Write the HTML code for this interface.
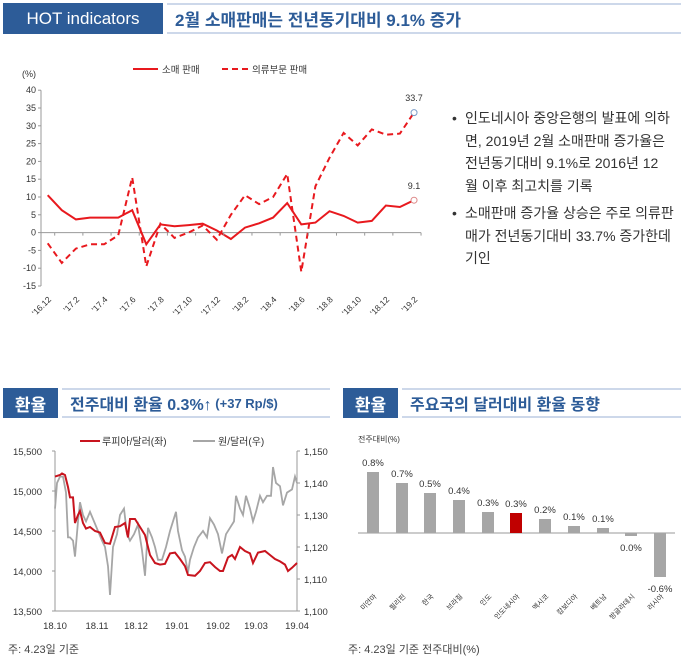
<!DOCTYPE html>
<html><head><meta charset="utf-8"><style>
body{margin:0;width:681px;height:664px;background:#fff;overflow:hidden;font-family:"Liberation Sans","Noto Sans CJK KR",sans-serif;position:relative}
.box{position:absolute;background:#2d5c98;color:#fff;font-weight:bold;display:flex;align-items:center;justify-content:center}
.tt{position:absolute;border-top:2px solid #cdd8ea;border-bottom:2px solid #cdd8ea;color:#2d5c98;font-weight:bold;display:flex;align-items:center;box-sizing:border-box;padding-left:8px}
.txt{position:absolute;left:452px;top:107px;width:229px;font-size:14px;line-height:22.7px;color:#333;white-space:nowrap}
.txt div{position:relative;padding-left:13px}
.txt div:before{content:"•";position:absolute;left:0}
svg{position:absolute;left:0;top:0}
</style></head><body>
<div class="box" style="left:3px;top:3px;width:160px;height:31px;font-size:17px;font-weight:normal">HOT indicators</div>
<div class="tt" style="left:167px;top:3px;width:514px;height:31px;font-size:17px">2월 소매판매는 전년동기대비 9.1% 증가</div>
<div class="box" style="left:3px;top:388px;width:55px;height:30px;font-size:17px">환율</div>
<div class="tt" style="left:62px;top:388px;width:268px;height:30px;font-size:16px">전주대비 환율 0.3%↑<span style="font-size:13px">&nbsp;(+37 Rp/$)</span></div>
<div class="box" style="left:343px;top:388px;width:55px;height:30px;font-size:17px">환율</div>
<div class="tt" style="left:402px;top:388px;width:279px;height:30px;font-size:16px">주요국의 달러대비 환율 동향</div>
<div class="txt"><div style="margin-bottom:4px">인도네시아 중앙은행의 발표에 의하<br>면, 2019년 2월 소매판매 증가율은<br>전년동기대비 9.1%로 2016년 12<br>월 이후 최고치를 기록</div><div>소매판매 증가율 상승은 주로 의류판<br>매가 전년동기대비 33.7% 증가한데<br>기인</div></div>
<svg id="s" width="681" height="664" font-family="Liberation Sans, Noto Sans CJK KR, sans-serif"></svg>
<script>
let o='';
const y0=232.6,k=3.56,x0=47.7,dx=14.09;
const Y=v=>y0-v*k;
for(let v=-15;v<=40;v+=5){let y=Y(v);o+=`<text x="36" y="${y+3}" font-size="9" text-anchor="end" fill="#333">${v}</text><line x1="38" x2="41" y1="${y}" y2="${y}" stroke="#999"/>`}
o+=`<text x="22" y="77" font-size="9" fill="#333">(%)</text>`;
o+=`<line x1="41" y1="${Y(40)}" x2="41" y2="${Y(-15)}" stroke="#999"/><line x1="41" y1="${y0}" x2="421" y2="${y0}" stroke="#999"/>`;
const r=[10.5,6.3,3.7,4.2,4.2,4.2,6.3,-3.3,2.3,1.8,2.1,2.5,0.6,-1.8,1.4,2.6,4.2,8.3,2.3,2.8,6.0,4.7,2.8,3.3,7.6,7.2,9.1];
const d=[-3,-8.5,-4.5,-3.3,-3.3,-0.8,15.5,-9.5,2.5,-1.5,0,2,-2,5,10.5,8,10,16.5,-11,13,21,28,24.5,29,27.5,27.8,33.7];
const P=a=>a.map((v,i)=>(x0+i*dx).toFixed(1)+','+Y(v).toFixed(1)).join(' ');
o+=`<polyline points="${P(d)}" fill="none" stroke="#e8191e" stroke-width="2" stroke-dasharray="6,4"/>`;
o+=`<polyline points="${P(r)}" fill="none" stroke="#e8191e" stroke-width="2"/>`;
let xl=x0+26*dx;
o+=`<circle cx="${xl}" cy="${Y(33.7)}" r="3" fill="#fff" stroke="#7a9cc8"/><circle cx="${xl}" cy="${Y(9.1)}" r="3" fill="#fff" stroke="#d88"/>`;
o+=`<text x="${xl}" y="101" font-size="9" text-anchor="middle" fill="#333">33.7</text><text x="${xl}" y="189" font-size="9" text-anchor="middle" fill="#333">9.1</text>`;
const lab=["'16.12","'17.2","'17.4","'17.6","'17.8","'17.10","'17.12","'18.2","'18.4","'18.6","'18.8","'18.10","'18.12","'19.2"];
lab.forEach((t,i)=>{let x=x0+i*2*dx+4;o+=`<text x="${x}" y="${300}" font-size="8.5" text-anchor="end" fill="#333" transform="rotate(-45 ${x} 300)">${t}</text>`;o+=`<line x1="${x0+i*2*dx+7}" x2="${x0+i*2*dx+7}" y1="${y0}" y2="${y0+3}" stroke="#999"/>`});
o+=`<line x1="133" x2="158" y1="69" y2="69" stroke="#e8191e" stroke-width="2"/><text x="162" y="73" font-size="9.5" fill="#333">소매 판매</text>`;
o+=`<line x1="222" x2="250" y1="69" y2="69" stroke="#e8191e" stroke-width="2" stroke-dasharray="6,4"/><text x="252" y="73" font-size="9.5" fill="#333">의류부문 판매</text>`;
const L=55,R=297,T=451,B=611;
o+=`<line x1="${L}" y1="${T}" x2="${L}" y2="${B}" stroke="#999"/><line x1="${R}" y1="${T}" x2="${R}" y2="${B}" stroke="#999"/><line x1="${L}" y1="${B}" x2="${R}" y2="${B}" stroke="#999"/>`;
["15,500","15,000","14,500","14,000","13,500"].forEach((t,i)=>{let y=T+i*40;o+=`<text x="42" y="${y+4}" font-size="9.5" text-anchor="end" fill="#333">${t}</text><line x1="${L-3}" x2="${L}" y1="${y}" y2="${y}" stroke="#999"/>`});
["1,150","1,140","1,130","1,120","1,110","1,100"].forEach((t,i)=>{let y=T+i*32;o+=`<text x="304" y="${y+4}" font-size="9.5" fill="#333">${t}</text><line x1="${R}" x2="${R+3}" y1="${y}" y2="${y}" stroke="#999"/>`});
["18.10","18.11","18.12","19.01","19.02","19.03","19.04"].forEach((t,i)=>{let x=[55,97,136,177,218,256,297][i];o+=`<text x="${x}" y="629" font-size="9.5" text-anchor="middle" fill="#333">${t}</text>`});
const red=[[55,15180],[60,15200],[62,15220],[65,15200],[68,15050],[70,14920],[73,14920],[75,14600],[78,14700],[80,14750],[83,14600],[86,14530],[90,14550],[95,14500],[100,14480],[105,14350],[110,14340],[115,14550],[120,14560],[125,14600],[128,14420],[130,14650],[135,14650],[140,14550],[145,14450],[150,14200],[155,14100],[160,14080],[165,14090],[170,14220],[175,14230],[180,14150],[185,14060],[188,13950],[195,13940],[200,14000],[205,14100],[210,14110],[215,14050],[220,14000],[223,14000],[228,14170],[232,14200],[235,14150],[240,14300],[245,14250],[250,14220],[253,14100],[258,14230],[265,14250],[270,14200],[275,14150],[280,14120],[285,14080],[288,14000],[292,14040],[297,14100]];
const gr=[[55,1132],[57,1140],[60,1142],[63,1142],[66,1137],[68,1123],[70,1123],[73,1122],[75,1117],[78,1128],[80,1134],[83,1130],[86,1128],[90,1131],[94,1128],[98,1125],[102,1122],[105,1120],[108,1114],[110,1105],[113,1120],[117,1124],[120,1130],[124,1132],[127,1124],[130,1122],[134,1124],[138,1127],[142,1119],[145,1111],[148,1126],[152,1123],[155,1120],[158,1116],[162,1116],[166,1120],[170,1125],[174,1129],[176,1131],[178,1125],[182,1119],[185,1117],[188,1112],[190,1116],[194,1120],[198,1123],[203,1125],[207,1123],[210,1129],[214,1127],[218,1124],[222,1118],[226,1124],[230,1126],[234,1128],[236,1136],[240,1132],[243,1130],[246,1136],[250,1132],[253,1128],[256,1131],[260,1136],[263,1134],[267,1136],[271,1136],[273,1145],[276,1140],[280,1139],[283,1133],[287,1137],[292,1138],[295,1142],[297,1140]];
o+=`<polyline points="${gr.map(p=>p[0]+','+(T+(1150-p[1])*3.2).toFixed(1)).join(' ')}" fill="none" stroke="#a6a6a6" stroke-width="1.8"/>`;
o+=`<polyline points="${red.map(p=>p[0]+','+(T+(15500-p[1])*0.08).toFixed(1)).join(' ')}" fill="none" stroke="#c8141e" stroke-width="2"/>`;
o+=`<line x1="80" x2="100" y1="441" y2="441" stroke="#c8141e" stroke-width="2"/><text x="102" y="445" font-size="10" fill="#333">루피아/달러(좌)</text>`;
o+=`<line x1="193" x2="215" y1="441" y2="441" stroke="#a6a6a6" stroke-width="2"/><text x="218" y="445" font-size="10" fill="#333">원/달러(우)</text>`;
o+=`<text x="8" y="653" font-size="11" fill="#444">주: 4.23일 기준</text>`;
const base=533;
o+=`<line x1="358" x2="675" y1="${base}" y2="${base}" stroke="#999"/>`;
const bars=[[373,61,'0.8%','미얀마'],[402,50,'0.7%','필리핀'],[430,40,'0.5%','한국'],[459,33,'0.4%','브라질'],[488,21,'0.3%','인도'],[516,20,'0.3%','인도네시아'],[545,14,'0.2%','멕시코'],[574,7,'0.1%','캄보디아'],[603,5,'0.1%','베트남'],[631,-3,'0.0%','방글라데시'],[660,-44,'-0.6%','러시아']];
bars.forEach(b=>{let [x,h,t,n]=b;let c=n=='인도네시아'?'#c00000':'#a6a6a6';
if(h>0){o+=`<rect x="${x-6}" y="${base-h}" width="12" height="${h}" fill="${c}"/><text x="${x}" y="${base-h-6}" font-size="9.5" text-anchor="middle" fill="#333">${t}</text>`}
else{o+=`<rect x="${x-6}" y="${base}" width="12" height="${-h}" fill="${c}"/><text x="${x}" y="${base-h+15}" font-size="9.5" text-anchor="middle" fill="#333">${t}</text>`}
o+=`<text x="${x+4}" y="597" font-size="7" text-anchor="end" fill="#333" transform="rotate(-45 ${x+4} 597)">${n}</text>`});
o+=`<text x="358" y="442" font-size="8" fill="#333">전주대비(%)</text>`;
o+=`<text x="348" y="653" font-size="11" fill="#444">주: 4.23일 기준 전주대비(%)</text>`;
document.getElementById('s').innerHTML=o;
</script>
</body></html>
